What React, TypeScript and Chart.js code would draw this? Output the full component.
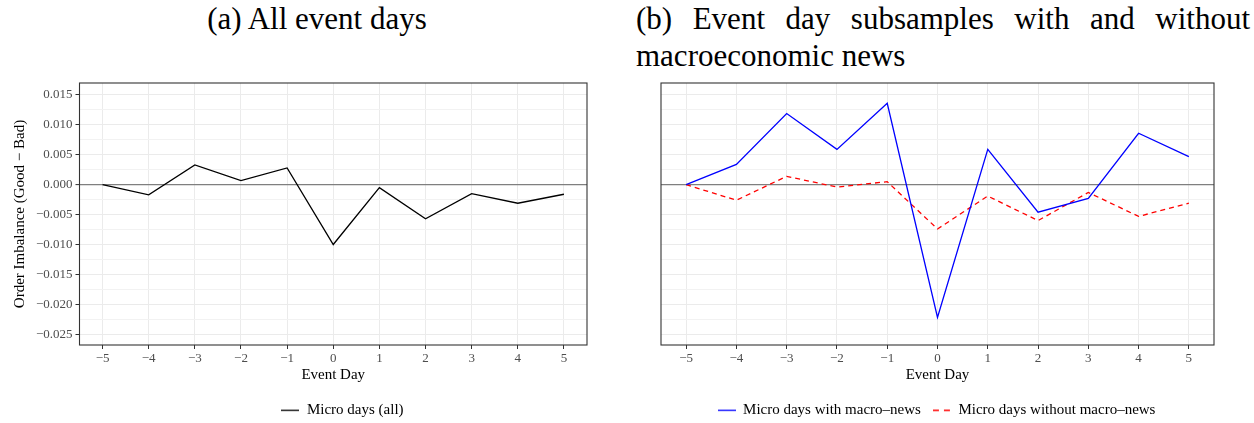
import React, { useEffect, useRef } from "react";
import { Chart, registerables } from "chart.js";

Chart.register(...registerables);

// ---------- data ----------
const eventDays = [-5, -4, -3, -2, -1, 0, 1, 2, 3, 4, 5];
const xTickLabels = ["−5", "−4", "−3", "−2", "−1", "0", "1", "2", "3", "4", "5"];

const microAll = [0, -0.0017, 0.0033, 0.0007, 0.0028, -0.01, -0.0005, -0.0057, -0.0015, -0.0031, -0.0016];
const microWithMacro = [0, 0.0034, 0.0119, 0.0059, 0.0136, -0.0222, 0.0059, -0.0046, -0.0023, 0.0086, 0.0047];
const microWithoutMacro = [0, -0.0026, 0.0014, -0.0004, 0.0005, -0.0074, -0.0019, -0.006, -0.0013, -0.0053, -0.0031];

const yMajorTicks = [-0.025, -0.02, -0.015, -0.01, -0.005, 0, 0.005, 0.01, 0.015];
const yTickLabels = ["−0.025", "−0.020", "−0.015", "−0.010", "−0.005", "0.000", "0.005", "0.010", "0.015"];
const yMinorTicks = [-0.0225, -0.0175, -0.0125, -0.0075, -0.0025, 0.0025, 0.0075, 0.0125];

const yMin = -0.0268;
const yMax = 0.017;
const xMin = -5.5;
const xMax = 5.5;

// ---------- style ----------
const FONT = "'Liberation Serif', 'Times New Roman', serif";
const TICK_COLOR = "#4D4D4D";
const AXIS_COLOR = "#333333";
const GRID_MAJOR = "#EBEBEB";
const GRID_MINOR = "#F2F2F2";
const ZERO_LINE = "#7F7F7F";
const SWATCH_W = 18;

const near = (a: number, b: number) => Math.abs(a - b) < 1e-9;
const majorIndex = (v: number) => yMajorTicks.findIndex((m) => near(m, v));

// small legend key image: a line sample in the series' colour and dash
function lineSwatch(color: string, dash: number[]): HTMLCanvasElement {
  const c = document.createElement("canvas");
  c.width = SWATCH_W;
  c.height = 3;
  const g = c.getContext("2d")!;
  g.strokeStyle = color;
  g.lineWidth = 1.3;
  g.setLineDash(dash);
  g.beginPath();
  g.moveTo(0, 1.5);
  g.lineTo(SWATCH_W, 1.5);
  g.stroke();
  return c;
}

const framePlugin = {
  id: "panelFrame",
  afterDatasetsDraw(chart: any) {
    const { ctx, chartArea: a } = chart;
    ctx.save();
    ctx.strokeStyle = AXIS_COLOR;
    ctx.lineWidth = 1.1;
    ctx.strokeRect(a.left, a.top, a.right - a.left, a.bottom - a.top);
    ctx.restore();
  },
};

const legendShift = (centerX: number, dy: number) => ({
  id: "legendShift",
  afterLayout(chart: any) {
    const lg = chart.legend;
    if (!lg) return;
    const dx = centerX - (lg.left + lg.right) / 2;
    lg.left += dx;
    lg.right += dx;
    lg.top += dy;
    lg.bottom += dy;
  },
});

type PanelOpts = {
  datasets: any[];
  showY: boolean;
  yAxisWidth: number;
  padRight: number;
  legendCenter: number;
};

function makeConfig(o: PanelOpts): any {
  return {
    type: "line",
    data: { datasets: o.datasets },
    plugins: [framePlugin, legendShift(o.legendCenter, 7)],
    options: {
      responsive: false,
      animation: false,
      events: [],
      layout: { padding: { top: 13, right: o.padRight, bottom: 2.3, left: 0 } },
      elements: { point: { radius: 0, hoverRadius: 0 }, line: { tension: 0 } },
      plugins: {
        tooltip: { enabled: false },
        title: { display: false },
        legend: {
          display: true,
          position: "bottom",
          labels: {
            usePointStyle: true,
            pointStyleWidth: SWATCH_W,
            padding: 12,
            color: "#000000",
            font: { family: FONT, size: 15 },
          },
        },
      },
      scales: {
        x: {
          type: "linear",
          min: xMin,
          max: xMax,
          afterBuildTicks: (s: any) => {
            s.ticks = eventDays.map((v) => ({ value: v }));
          },
          afterFit: (s: any) => {
            s.height = 38.7;
          },
          border: { display: false },
          grid: {
            color: GRID_MAJOR,
            lineWidth: 1,
            tickColor: AXIS_COLOR,
            tickLength: 4,
            tickWidth: 1,
          },
          ticks: {
            autoSkip: false,
            maxRotation: 0,
            padding: 2,
            color: TICK_COLOR,
            font: { family: FONT, size: 13 },
            callback: (v: number) => {
              const i = eventDays.indexOf(v);
              return i >= 0 ? xTickLabels[i] : "";
            },
          },
          title: {
            display: true,
            text: "Event Day",
            color: "#000000",
            font: { family: FONT, size: 15 },
            padding: { top: 0, bottom: 0 },
          },
        },
        y: {
          type: "linear",
          min: yMin,
          max: yMax,
          afterBuildTicks: (s: any) => {
            s.ticks = [...yMajorTicks, ...yMinorTicks]
              .sort((a, b) => a - b)
              .map((v) => ({ value: v }));
          },
          afterFit: (s: any) => {
            s.width = o.yAxisWidth;
          },
          border: { display: false },
          grid: {
            color: (c: any) => {
              const v = c.tick ? c.tick.value : NaN;
              if (near(v, 0)) return ZERO_LINE;
              return majorIndex(v) >= 0 ? GRID_MAJOR : GRID_MINOR;
            },
            lineWidth: (c: any) => {
              const v = c.tick ? c.tick.value : NaN;
              return near(v, 0) ? 1.2 : 1;
            },
            tickColor: (c: any) => {
              const v = c.tick ? c.tick.value : NaN;
              return majorIndex(v) >= 0 ? AXIS_COLOR : "rgba(0,0,0,0)";
            },
            drawTicks: o.showY,
            tickLength: 4,
            tickWidth: 1,
          },
          ticks: {
            display: o.showY,
            autoSkip: false,
            padding: 3,
            color: TICK_COLOR,
            font: { family: FONT, size: 13 },
            callback: (v: number) => {
              const i = majorIndex(v);
              return i >= 0 ? yTickLabels[i] : "";
            },
          },
          title: {
            display: o.showY,
            text: "Order Imbalance (Good − Bad)",
            color: "#000000",
            font: { family: FONT, size: 15 },
            padding: { top: 11, bottom: 0 },
          },
        },
      },
    },
  };
}

const toPoints = (vals: number[]) => eventDays.map((d, i) => ({ x: d, y: vals[i] }));

function Panel(props: { left: number; width: number; build: () => any }) {
  const ref = useRef<HTMLCanvasElement | null>(null);
  useEffect(() => {
    if (!ref.current) return;
    const chart = new Chart(ref.current, props.build());
    return () => chart.destroy();
  }, []);
  return (
    <canvas
      ref={ref}
      width={props.width}
      height={353}
      style={{ position: "absolute", left: props.left, top: 70, width: props.width, height: 353 }}
    />
  );
}

export default function App() {
  const titleStyle: React.CSSProperties = {
    position: "absolute",
    top: 0,
    fontFamily: FONT,
    fontSize: 31,
    lineHeight: "37.4px",
    color: "#000000",
    margin: 0,
  };
  return (
    <div
      style={{
        position: "absolute",
        left: 0,
        top: 0,
        width: 1254,
        height: 423,
        overflow: "hidden",
        background: "#ffffff",
      }}
    >
      <div style={{ ...titleStyle, left: 0, width: 634, textAlign: "center" }}>(a) All event days</div>
      <div style={{ ...titleStyle, left: 636, width: 614, textAlign: "justify" }}>
        (b) Event day subsamples with and without macroeconomic news
      </div>
      <Panel
        left={0}
        width={600}
        build={() =>
          makeConfig({
            datasets: [
              {
                label: "Micro days (all)",
                data: toPoints(microAll),
                borderColor: "#000000",
                backgroundColor: "#000000",
                borderWidth: 1.3,
                pointStyle: lineSwatch("#000000", []),
                fill: false,
              },
            ],
            showY: true,
            yAxisWidth: 79.5,
            padRight: 13,
            legendCenter: 342.5,
          })
        }
      />
      <Panel
        left={610}
        width={644}
        build={() =>
          makeConfig({
            datasets: [
              {
                label: "Micro days with macro–news",
                data: toPoints(microWithMacro),
                borderColor: "#0000FF",
                backgroundColor: "#0000FF",
                borderWidth: 1.3,
                pointStyle: lineSwatch("#0000FF", []),
                fill: false,
              },
              {
                label: "Micro days without macro–news",
                data: toPoints(microWithoutMacro),
                borderColor: "#FF0000",
                backgroundColor: "#FF0000",
                borderWidth: 1.3,
                borderDash: [5, 4],
                pointStyle: lineSwatch("#FF0000", [6, 5]),
                fill: false,
              },
            ],
            showY: false,
            yAxisWidth: 51,
            padRight: 40,
            legendCenter: 326.5,
          })
        }
      />
    </div>
  );
}
